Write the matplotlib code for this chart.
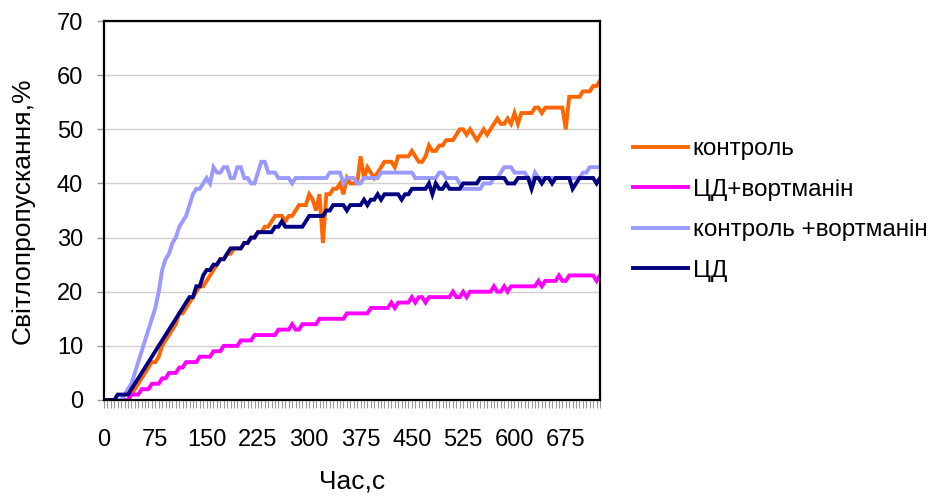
import numpy as np
import matplotlib
matplotlib.use("Agg")
import matplotlib.pyplot as plt
from matplotlib.ticker import MultipleLocator

plt.rcParams['font.family'] = ['Liberation Sans', 'DejaVu Sans']

# --- DATA (one value every 5 s) ---
time_s = np.arange(0, 730, 5)

control = [
    0, 0, 0, 0, 0, 0, 0, 0, 1, 2, 3, 4, 5, 6, 7,
    7, 8, 10, 11, 12, 13, 14, 16, 16, 17, 18, 19, 20, 21, 21,
    22, 23, 24, 25, 26, 26, 27, 27, 28, 28, 28, 29, 29, 30, 30,
    31, 31, 32, 32, 33, 34, 34, 34, 33, 34, 34, 35, 36, 36, 36,
    38, 37, 35, 38, 29, 38, 38, 39, 39, 40, 38, 41, 40, 40, 40,
    45, 41, 43, 42, 41, 42, 43, 44, 44, 44, 43, 45, 45, 45, 45,
    46, 45, 44, 44, 45, 47, 46, 46, 47, 47, 48, 48, 48, 49, 50,
    50, 49, 50, 49, 48, 49, 50, 49, 50, 51, 52, 51, 51, 52, 51,
    53, 51, 53, 53, 53, 53, 54, 54, 53, 54, 54, 54, 54, 54, 54,
    50, 56, 56, 56, 56, 57, 57, 57, 58, 58, 59,
]

cd_wortmannin = [
    0, 0, 0, 0, 0, 0, 0, 0, 1, 1, 1, 2, 2, 2, 3,
    3, 3, 4, 4, 5, 5, 5, 6, 6, 7, 7, 7, 7, 8, 8,
    8, 8, 9, 9, 9, 10, 10, 10, 10, 10, 11, 11, 11, 11, 12,
    12, 12, 12, 12, 12, 12, 13, 13, 13, 13, 14, 13, 13, 14, 14,
    14, 14, 14, 15, 15, 15, 15, 15, 15, 15, 15, 16, 16, 16, 16,
    16, 16, 16, 17, 17, 17, 17, 17, 17, 18, 17, 18, 18, 18, 18,
    19, 18, 19, 19, 18, 19, 19, 19, 19, 19, 19, 19, 20, 19, 19,
    20, 19, 20, 20, 20, 20, 20, 20, 20, 21, 20, 20, 21, 20, 21,
    21, 21, 21, 21, 21, 21, 21, 22, 21, 22, 22, 22, 22, 23, 22,
    22, 23, 23, 23, 23, 23, 23, 23, 23, 22, 23,
]

control_wortmannin = [
    0, 0, 0, 0, 0, 0, 1, 2, 3, 5, 7, 9, 11, 13, 15,
    17, 20, 24, 26, 27, 29, 30, 32, 33, 34, 36, 38, 39, 39, 40,
    41, 40, 43, 42, 42, 43, 43, 41, 41, 43, 43, 41, 41, 40, 40,
    42, 44, 44, 42, 42, 42, 41, 41, 41, 41, 40, 41, 41, 41, 41,
    41, 41, 41, 41, 41, 41, 42, 42, 42, 42, 40, 41, 41, 41, 40,
    40, 41, 41, 41, 41, 41, 42, 42, 42, 42, 42, 42, 42, 42, 42,
    42, 41, 41, 41, 41, 41, 41, 41, 42, 42, 41, 41, 41, 41, 40,
    39, 39, 39, 39, 39, 39, 40, 40, 40, 41, 41, 42, 43, 43, 43,
    42, 42, 42, 42, 41, 40, 42, 41, 41, 41, 41, 41, 41, 41, 41,
    41, 41, 41, 41, 41, 42, 42, 43, 43, 43, 43,
]

cd = [
    0, 0, 0, 0, 1, 1, 1, 1, 2, 3, 4, 5, 6, 7, 8,
    9, 10, 11, 12, 13, 14, 15, 16, 17, 18, 19, 19, 21, 21, 23,
    24, 24, 25, 25, 26, 26, 27, 28, 28, 28, 28, 29, 29, 30, 30,
    31, 31, 31, 31, 31, 32, 32, 33, 32, 32, 32, 32, 32, 32, 33,
    34, 34, 34, 34, 34, 35, 35, 36, 36, 36, 36, 35, 36, 36, 36,
    36, 37, 36, 37, 37, 38, 37, 38, 38, 38, 38, 38, 37, 38, 38,
    39, 39, 39, 39, 39, 40, 38, 40, 39, 39, 40, 39, 39, 39, 39,
    40, 40, 40, 40, 40, 41, 41, 41, 41, 41, 41, 41, 41, 40, 40,
    40, 41, 41, 41, 41, 39, 41, 41, 40, 41, 41, 40, 41, 41, 41,
    41, 41, 39, 40, 41, 41, 41, 41, 41, 40, 41,
]

series = [
    ("контроль", control, "#FF6600"),
    ("ЦД+вортманін", cd_wortmannin, "#FF00FF"),
    ("контроль +вортманін", control_wortmannin, "#9999FF"),
    ("ЦД", cd, "#000080"),
]

x_labels = np.arange(0, 700, 75)

# --- PLOT ---
fig = plt.figure(figsize=(9.4, 4.97), dpi=100)
ax = fig.add_axes([104 / 940, 1 - 400 / 497, 496 / 940, 379 / 497])

for name, vals, col in series:
    ax.plot(time_s, vals, color=col, lw=2.8, label=name, solid_joinstyle='miter')

ax.set_xlim(0, 725)
ax.set_ylim(0, 70)
ax.set_xticks(x_labels)
ax.set_xticklabels([str(v) for v in x_labels])
ax.xaxis.set_minor_locator(MultipleLocator(5))
ax.yaxis.set_major_locator(MultipleLocator(10))

ax.grid(axis='y', color='#d0d0d0', lw=1)
ax.set_axisbelow(True)
for sp in ax.spines.values():
    sp.set_linewidth(1.6)
    sp.set_color('black')

ax.tick_params(axis='x', which='both', length=6, width=0.8, color='#999999',
               labelsize=17, pad=15)
ax.tick_params(axis='y', which='major', length=5, width=1, color='#999999',
               labelsize=17, pad=10)

ax.set_xlabel("Час,с", fontsize=19, labelpad=13)
ax.set_ylabel("Світлопропускання,%", fontsize=19, labelpad=16)

fig.legend(loc='center left', bbox_to_anchor=(633 / 940, 1 - 210 / 497),
           frameon=False, fontsize=17.5, handlelength=2.26, handletextpad=0.2,
           labelspacing=0.76, borderpad=0, borderaxespad=0)

fig.savefig("out.png", dpi=100)
